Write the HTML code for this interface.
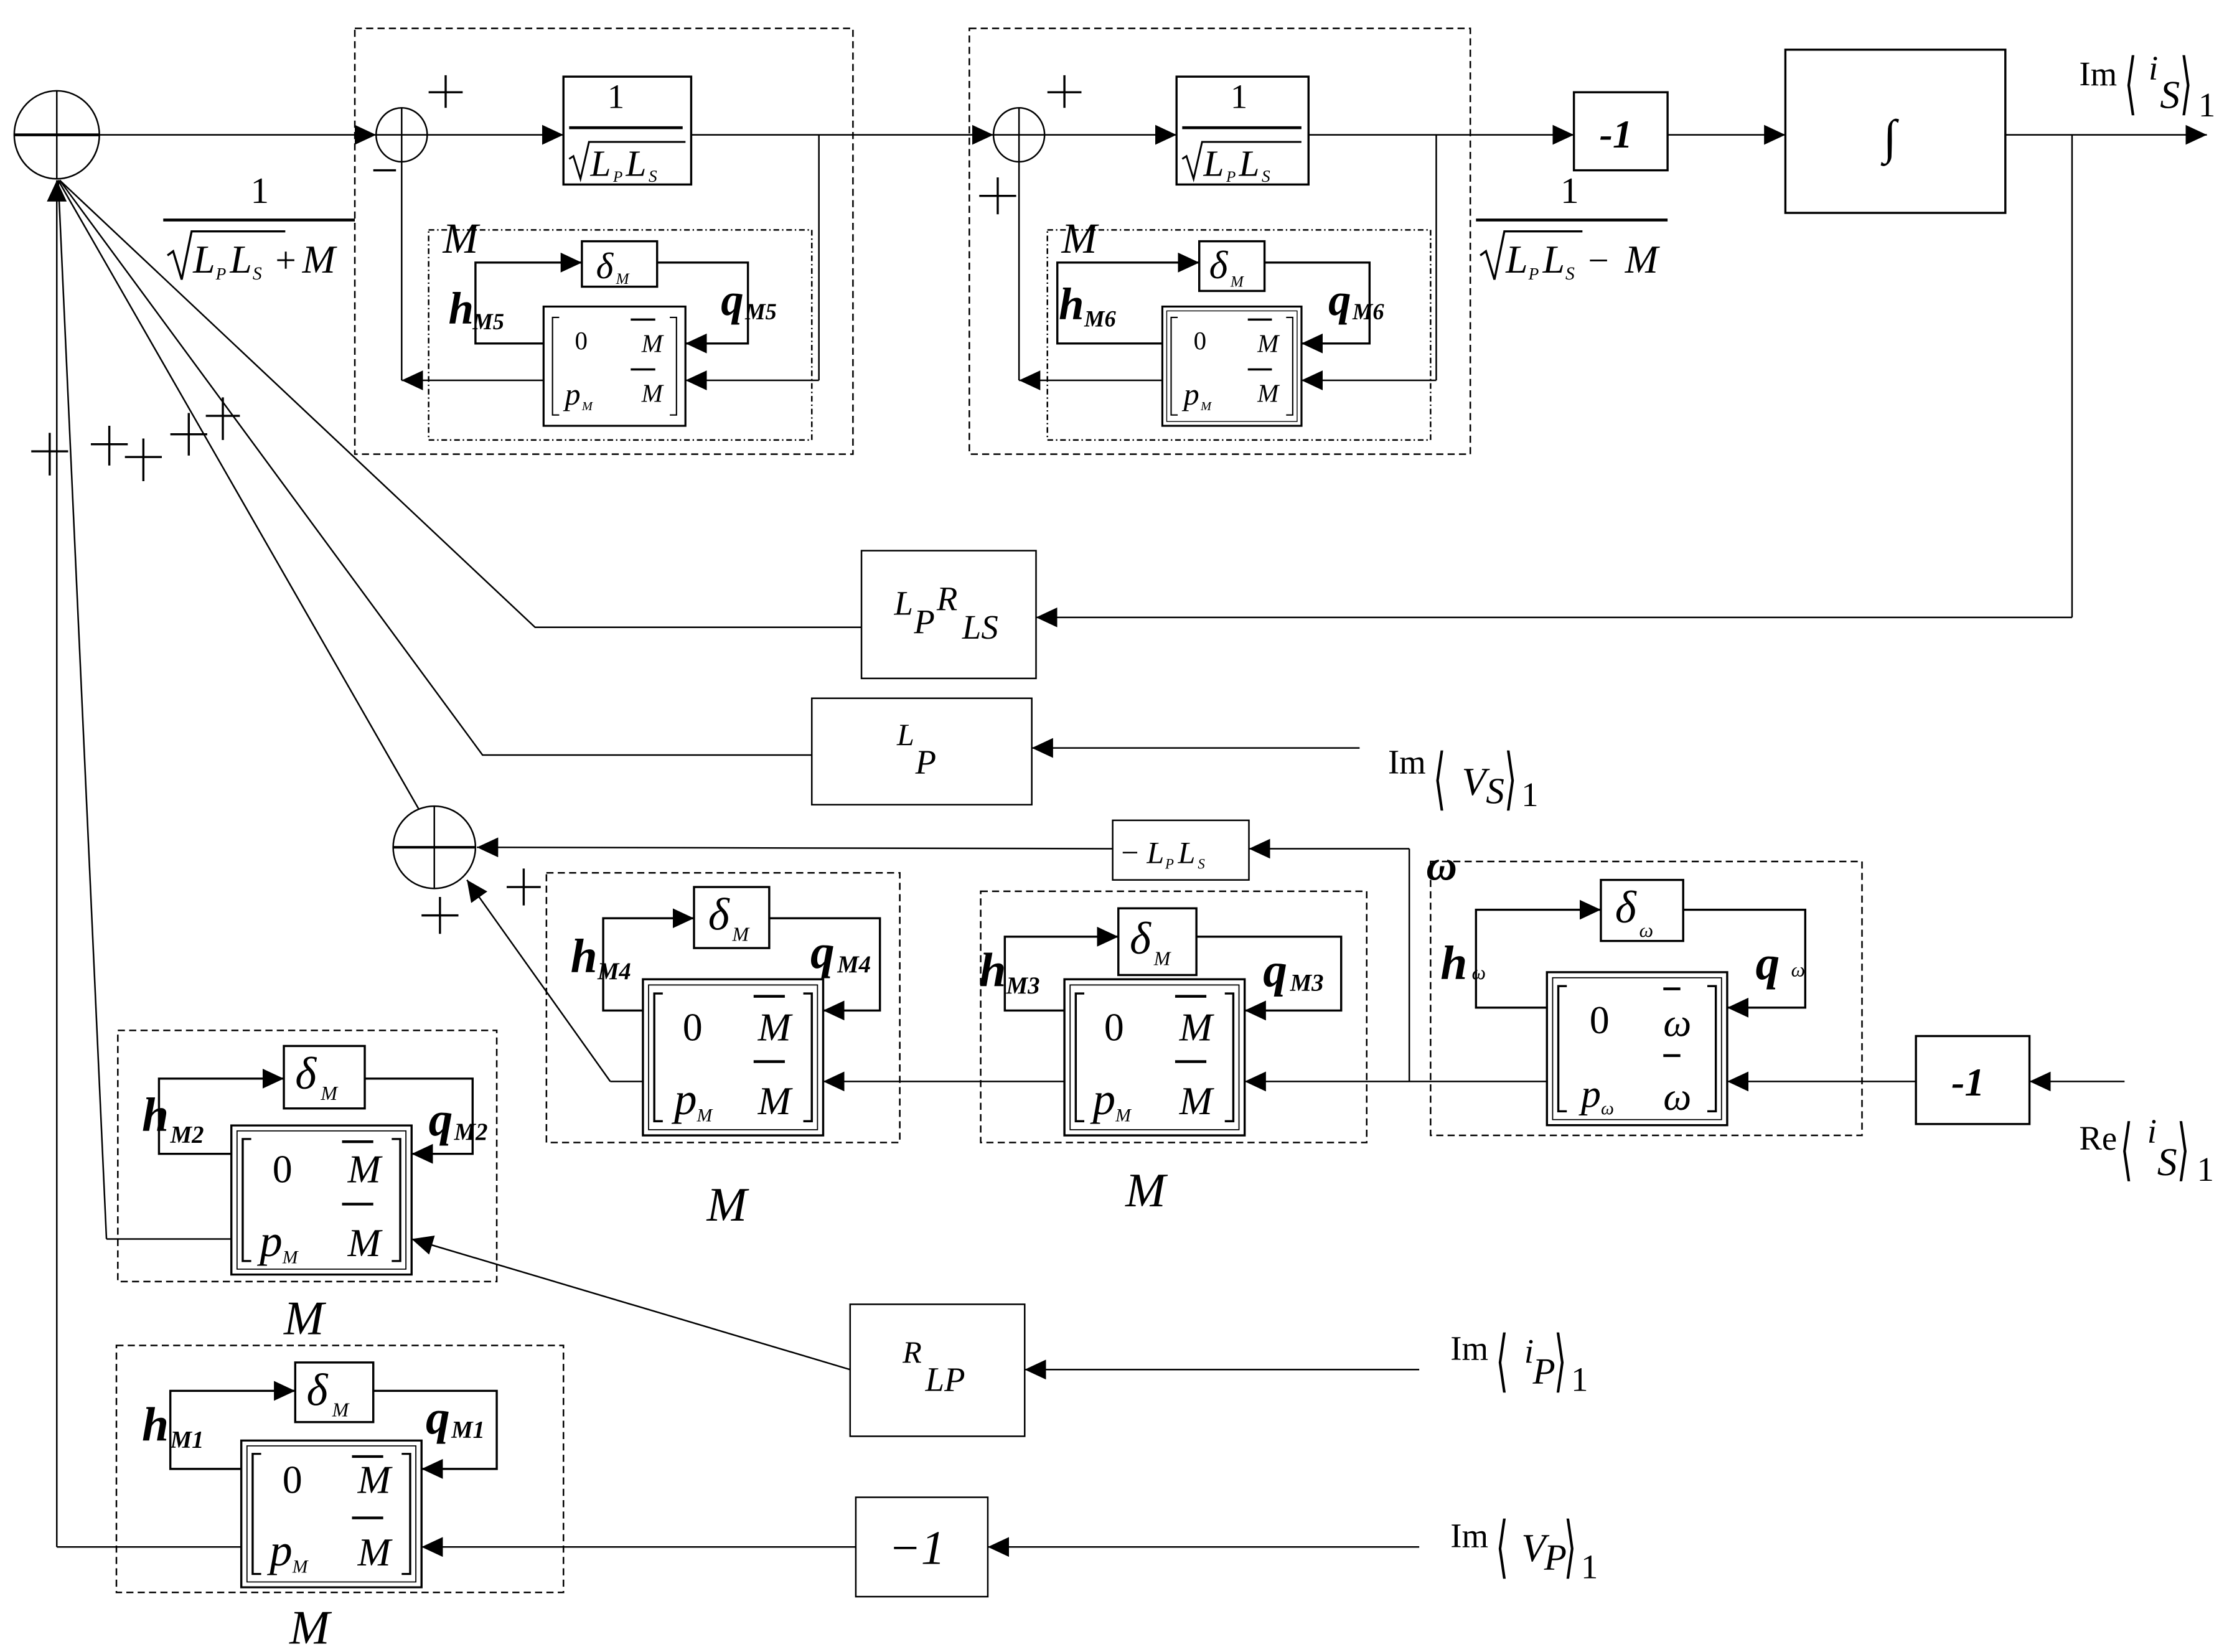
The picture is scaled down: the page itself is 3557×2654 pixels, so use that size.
<!DOCTYPE html>
<html><head><meta charset="utf-8"><style>
html,body{margin:0;padding:0;background:#fff;}
svg{display:block;}
text{font-family:"Liberation Serif",serif;fill:#000;}
.i{font-style:italic;}
.b{font-weight:bold;font-style:italic;}
</style></head><body>
<svg width="3557" height="2654" viewBox="0 0 1560 1164" xmlns="http://www.w3.org/2000/svg">
<defs>
<marker id="a" markerUnits="userSpaceOnUse" markerWidth="16" markerHeight="14" refX="15" refY="7" orient="auto"><path d="M0,0 L15,7 L0,14 z" fill="#000"/></marker>
</defs>
<rect width="1560" height="1164" fill="#fff"/>
<g fill="none" stroke="#000" stroke-width="1.1">
<ellipse cx="40" cy="95" rx="30" ry="31"/>
<line x1="10" y1="95" x2="70" y2="95" stroke-width="2"/><line x1="40" y1="64" x2="40" y2="126"/>
<line x1="70" y1="95" x2="265" y2="95" marker-end="url(#a)"/>
<g stroke-dasharray="5,3">
<rect x="250" y="20" width="351" height="300"/>
<rect x="683" y="20" width="353" height="300"/>
<rect x="385" y="615" width="249" height="190"/>
<rect x="691" y="628" width="272" height="177"/>
<rect x="1008" y="607" width="304" height="193"/>
<rect x="83" y="726" width="267" height="177"/>
<rect x="82" y="948" width="315" height="174"/>
</g>
<g stroke-dasharray="4,2,1,2">
<rect x="302" y="162" width="270" height="148"/>
<rect x="738" y="162" width="270" height="148"/>
</g>
<ellipse cx="283" cy="95" rx="18" ry="19"/><line x1="265" y1="95" x2="301" y2="95"/><line x1="283" y1="76" x2="283" y2="114"/>
<ellipse cx="718" cy="95" rx="18" ry="19"/><line x1="700" y1="95" x2="736" y2="95"/><line x1="718" y1="76" x2="718" y2="114"/>
<line x1="301" y1="95" x2="397" y2="95" marker-end="url(#a)"/>
<line x1="736" y1="95" x2="829" y2="95" marker-end="url(#a)"/>
<rect x="397" y="54" width="90" height="76" stroke-width="1.5"/>
<rect x="829" y="54" width="93" height="76" stroke-width="1.5"/>
<line x1="487" y1="95" x2="700" y2="95" marker-end="url(#a)"/>
<line x1="922" y1="95" x2="1109" y2="95" marker-end="url(#a)"/>
<polyline points="577,95 577,268"/><line x1="577" y1="268" x2="483" y2="268" marker-end="url(#a)"/>
<polyline points="1012,95 1012,268"/><line x1="1012" y1="268" x2="917" y2="268" marker-end="url(#a)"/>
<line x1="383" y1="268" x2="283" y2="268" marker-end="url(#a)"/><line x1="283" y1="268" x2="283" y2="114"/>
<line x1="819" y1="268" x2="718" y2="268" marker-end="url(#a)"/><line x1="718" y1="268" x2="718" y2="114"/>
<rect x="1109" y="65" width="66" height="55" stroke-width="1.5"/>
<line x1="1175" y1="95" x2="1258" y2="95" marker-end="url(#a)"/>
<rect x="1258" y="35" width="155" height="115" stroke-width="1.5"/>
<line x1="1413" y1="95" x2="1555" y2="95" marker-end="url(#a)"/>
<polyline points="1460,95 1460,435"/><line x1="1460" y1="435" x2="730" y2="435" marker-end="url(#a)"/>
<rect x="607" y="388" width="123" height="90"/>
<polyline points="607,442 377,442 42,127"/>
<rect x="572" y="492" width="155" height="75"/>
<line x1="958" y1="527" x2="727" y2="527" marker-end="url(#a)"/>
<polyline points="572,532 340,532 42,127"/>
<ellipse cx="306" cy="597" rx="29" ry="29"/><line x1="277" y1="597" x2="335" y2="597" stroke-width="1.8"/><line x1="306" y1="568" x2="306" y2="626"/>
<line x1="295" y1="570" x2="41" y2="127"/>
<rect x="784" y="578" width="96" height="42"/>
<line x1="993" y1="598" x2="880" y2="598" marker-end="url(#a)"/>
<line x1="784" y1="598" x2="336" y2="597" marker-end="url(#a)"/>
<line x1="993" y1="598" x2="993" y2="762"/>
<polyline points="453,762 430,762"/><line x1="430" y1="762" x2="329" y2="620" marker-end="url(#a)"/>
<line x1="750" y1="762" x2="580" y2="762" marker-end="url(#a)"/>
<line x1="1090" y1="762" x2="877" y2="762" marker-end="url(#a)"/>
<rect x="1350" y="730" width="80" height="62" stroke-width="1.5"/>
<line x1="1350" y1="762" x2="1217" y2="762" marker-end="url(#a)"/>
<line x1="1497" y1="762" x2="1430" y2="762" marker-end="url(#a)"/>
<polyline points="163,873 75,873"/><line x1="75" y1="873" x2="41" y2="127"/>
<rect x="599" y="919" width="123" height="93"/>
<line x1="599" y1="965" x2="290" y2="873" marker-end="url(#a)"/>
<line x1="1000" y1="965" x2="722" y2="965" marker-end="url(#a)"/>
<polyline points="170,1090 40,1090"/><line x1="40" y1="1090" x2="40" y2="127" marker-end="url(#a)"/>
<rect x="603" y="1055" width="93" height="70"/>
<line x1="1000" y1="1090" x2="696" y2="1090" marker-end="url(#a)"/>
<line x1="603" y1="1090" x2="297" y2="1090" marker-end="url(#a)"/>
<g stroke-width="1.5">
<rect x="410" y="170" width="53" height="32"/>
<rect x="845" y="170" width="46" height="35"/>
<rect x="489" y="625" width="53" height="43"/>
<rect x="788" y="640" width="55" height="47"/>
<rect x="1128" y="620" width="58" height="43"/>
<rect x="200" y="737" width="57" height="44"/>
<rect x="208" y="960" width="55" height="42"/>
</g>
<g stroke-width="1.5">
<polyline points="383,242 335,242 335,185 410,185" marker-end="url(#a)"/>
<polyline points="463,185 527,185 527,242 483,242" marker-end="url(#a)"/>
<polyline points="819,242 745,242 745,185 845,185" marker-end="url(#a)"/>
<polyline points="891,185 965,185 965,242 917,242" marker-end="url(#a)"/>
<polyline points="453,712 425,712 425,647 489,647" marker-end="url(#a)"/>
<polyline points="542,647 620,647 620,712 580,712" marker-end="url(#a)"/>
<polyline points="750,712 708,712 708,660 788,660" marker-end="url(#a)"/>
<polyline points="843,660 945,660 945,712 877,712" marker-end="url(#a)"/>
<polyline points="1090,710 1040,710 1040,641 1128,641" marker-end="url(#a)"/>
<polyline points="1186,641 1272,641 1272,710 1217,710" marker-end="url(#a)"/>
<polyline points="163,813 112,813 112,760 200,760" marker-end="url(#a)"/>
<polyline points="257,760 333,760 333,813 290,813" marker-end="url(#a)"/>
<polyline points="170,1035 120,1035 120,980 208,980" marker-end="url(#a)"/>
<polyline points="263,980 350,980 350,1035 297,1035" marker-end="url(#a)"/>
</g>
<g stroke-width="1.5">
<path d="M22,318h26M35,305v30"/><path d="M64,313h26M77,300v28"/><path d="M88,322h26M101,309v30"/>
<path d="M120,306h26M133,291v30"/><path d="M145,293h24M157,280v30"/>
<path d="M302,65h24M314,53v23"/><path d="M263,120h16"/>
<path d="M738,65h24M750,53v23"/><path d="M690,138h26M703,125v26"/>
<path d="M357,625h24M369,612v26"/><path d="M297,645h26M310,632v26"/>
</g>
<line x1="115" y1="155" x2="250" y2="155" stroke-width="2"/>
<path d="M118,180 l4,-3 l6,20 l7,-34 h66" stroke-width="1.5"/>
<line x1="1040" y1="155" x2="1175" y2="155" stroke-width="2"/>
<path d="M1043,180 l4,-3 l6,20 l7,-34 h55" stroke-width="1.5"/>
<line x1="401" y1="90" x2="481" y2="90" stroke-width="2"/>
<path d="M401,112 l3,-2 l5,16 l6,-26 h68" stroke-width="1.3"/>
<line x1="833" y1="90" x2="917" y2="90" stroke-width="2"/>
<path d="M833,112 l3,-2 l5,16 l6,-26 h70" stroke-width="1.3"/>
</g>

<g fill="none" stroke="#000">
<g transform="translate(383,216) scale(0.787,0.764)"><rect x="0" y="0" width="127" height="110" stroke-width="1.8"/><path d="M14,10H8V100H14M113,10H119V100H113" stroke-width="1.2"/><line x1="78" y1="12" x2="100" y2="12" stroke-width="2"/><line x1="78" y1="58" x2="100" y2="58" stroke-width="2"/></g>
<g transform="translate(819,216) scale(0.772,0.764)"><rect x="0" y="0" width="127" height="110" stroke-width="1.8"/><rect x="4" y="4" width="119" height="102" stroke-width="0.8"/><path d="M14,10H8V100H14M113,10H119V100H113" stroke-width="1.2"/><line x1="78" y1="12" x2="100" y2="12" stroke-width="2"/><line x1="78" y1="58" x2="100" y2="58" stroke-width="2"/></g>
<g transform="translate(453,690)"><rect x="0" y="0" width="127" height="110" stroke-width="1.5"/><rect x="4" y="4" width="119" height="102" stroke-width="0.8"/><path d="M14,10H8V100H14M113,10H119V100H113" stroke-width="1.5"/><line x1="78" y1="12" x2="100" y2="12" stroke-width="2"/><line x1="78" y1="58" x2="100" y2="58" stroke-width="2"/></g>
<g transform="translate(750,690)"><rect x="0" y="0" width="127" height="110" stroke-width="1.5"/><rect x="4" y="4" width="119" height="102" stroke-width="0.8"/><path d="M14,10H8V100H14M113,10H119V100H113" stroke-width="1.5"/><line x1="78" y1="12" x2="100" y2="12" stroke-width="2"/><line x1="78" y1="58" x2="100" y2="58" stroke-width="2"/></g>
<g transform="translate(1090,685) scale(1,0.98)"><rect x="0" y="0" width="127" height="110" stroke-width="1.5"/><rect x="4" y="4" width="119" height="102" stroke-width="0.8"/><path d="M14,10H8V100H14M113,10H119V100H113" stroke-width="1.5"/><line x1="82" y1="12" x2="94" y2="12" stroke-width="2"/><line x1="82" y1="60" x2="94" y2="60" stroke-width="2"/></g>
<g transform="translate(163,793) scale(1,0.955)"><rect x="0" y="0" width="127" height="110" stroke-width="1.5"/><rect x="4" y="4" width="119" height="102" stroke-width="0.8"/><path d="M14,10H8V100H14M113,10H119V100H113" stroke-width="1.5"/><line x1="78" y1="12" x2="100" y2="12" stroke-width="2"/><line x1="78" y1="58" x2="100" y2="58" stroke-width="2"/></g>
<g transform="translate(170,1015) scale(1,0.94)"><rect x="0" y="0" width="127" height="110" stroke-width="1.5"/><rect x="4" y="4" width="119" height="102" stroke-width="0.8"/><path d="M14,10H8V100H14M113,10H119V100H113" stroke-width="1.5"/><line x1="78" y1="12" x2="100" y2="12" stroke-width="2"/><line x1="78" y1="58" x2="100" y2="58" stroke-width="2"/></g>
</g>

<g font-size="18">
<text x="405" y="246">0</text><text x="452" y="248" class="i">M</text><text x="398" y="285" class="i" font-size="22">p</text><text x="410" y="289" class="i" font-size="9">M</text><text x="452" y="283" class="i">M</text>
<text x="841" y="246">0</text><text x="886" y="248" class="i">M</text><text x="834" y="285" class="i" font-size="22">p</text><text x="846" y="289" class="i" font-size="9">M</text><text x="886" y="283" class="i">M</text>
</g>
<g font-size="28">
<text x="481" y="733">0</text><text x="534" y="733" class="i">M</text><text x="475" y="785" class="i" font-size="32">p</text><text x="491" y="790" class="i" font-size="13">M</text><text x="534" y="785" class="i">M</text>
<text x="778" y="733">0</text><text x="831" y="733" class="i">M</text><text x="770" y="785" class="i" font-size="32">p</text><text x="786" y="790" class="i" font-size="13">M</text><text x="831" y="785" class="i">M</text>
<text x="1120" y="728">0</text><text x="1172" y="730" class="i">ω</text><text x="1114" y="780" class="i" font-size="28">p</text><text x="1128" y="785" class="i" font-size="13">ω</text><text x="1172" y="782" class="i">ω</text>
<text x="192" y="833">0</text><text x="245" y="833" class="i">M</text><text x="183" y="885" class="i" font-size="32">p</text><text x="199" y="890" class="i" font-size="13">M</text><text x="245" y="885" class="i">M</text>
<text x="199" y="1052">0</text><text x="252" y="1052" class="i">M</text><text x="190" y="1103" class="i" font-size="32">p</text><text x="206" y="1108" class="i" font-size="13">M</text><text x="252" y="1103" class="i">M</text>
</g>

<text x="420" y="196" class="i" font-size="26">δ</text><text x="434" y="200" class="i" font-size="11">M</text>
<text x="852" y="196" class="i" font-size="28">δ</text><text x="867" y="202" class="i" font-size="11">M</text>
<text x="499" y="655" class="i" font-size="32">δ</text><text x="516" y="663" class="i" font-size="14">M</text>
<text x="796" y="672" class="i" font-size="32">δ</text><text x="813" y="680" class="i" font-size="14">M</text>
<text x="1138" y="650" class="i" font-size="32">δ</text><text x="1155" y="660" class="i" font-size="14">ω</text>
<text x="208" y="767" class="i" font-size="32">δ</text><text x="226" y="775" class="i" font-size="14">M</text>
<text x="216" y="990" class="i" font-size="32">δ</text><text x="234" y="998" class="i" font-size="14">M</text>

<g>
<text x="316" y="228" font-size="32" class="b">h</text><text x="333" y="232" font-size="16" class="b">M5</text>
<text x="508" y="222" font-size="32" class="b">q</text><text x="525" y="225" font-size="16" class="b">M5</text>
<text x="746" y="225" font-size="32" class="b">h</text><text x="764" y="230" font-size="16" class="b">M6</text>
<text x="936" y="222" font-size="32" class="b">q</text><text x="953" y="225" font-size="16" class="b">M6</text>
<text x="402" y="685" font-size="34" class="b">h</text><text x="421" y="690" font-size="17" class="b">M4</text>
<text x="571" y="682" font-size="34" class="b">q</text><text x="590" y="685" font-size="17" class="b">M4</text>
<text x="690" y="695" font-size="34" class="b">h</text><text x="709" y="700" font-size="17" class="b">M3</text>
<text x="890" y="695" font-size="34" class="b">q</text><text x="909" y="698" font-size="17" class="b">M3</text>
<text x="1015" y="690" font-size="34" class="b">h</text><text x="1037" y="690" font-size="14" class="i">ω</text>
<text x="1237" y="690" font-size="34" class="b">q</text><text x="1262" y="688" font-size="14" class="i">ω</text>
<text x="100" y="797" font-size="34" class="b">h</text><text x="120" y="805" font-size="17" class="b">M2</text>
<text x="302" y="800" font-size="34" class="b">q</text><text x="320" y="803" font-size="17" class="b">M2</text>
<text x="100" y="1015" font-size="34" class="b">h</text><text x="120" y="1020" font-size="17" class="b">M1</text>
<text x="300" y="1010" font-size="34" class="b">q</text><text x="318" y="1013" font-size="17" class="b">M1</text>
</g>

<g font-size="34">
<text x="312" y="178" class="i" font-size="30">M</text>
<text x="748" y="178" class="i" font-size="30">M</text>
<text x="498" y="860" class="i">M</text>
<text x="793" y="850" class="i">M</text>
<text x="200" y="940" class="i">M</text>
<text x="204" y="1158" class="i">M</text>
<text x="1005" y="620" class="b" font-size="30">ω</text>
</g>

<text x="434" y="76" font-size="24" text-anchor="middle">1</text>
<text x="416" y="124" class="i" font-size="26">L</text><text x="432" y="128" class="i" font-size="11">P</text><text x="441" y="124" class="i" font-size="26">L</text><text x="457" y="128" class="i" font-size="12">S</text>
<text x="873" y="76" font-size="24" text-anchor="middle">1</text>
<text x="848" y="124" class="i" font-size="26">L</text><text x="864" y="128" class="i" font-size="11">P</text><text x="873" y="124" class="i" font-size="26">L</text><text x="889" y="128" class="i" font-size="12">S</text>
<text x="183" y="143" font-size="26" text-anchor="middle">1</text>
<text x="136" y="192" class="i" font-size="28">L</text><text x="152" y="197" class="i" font-size="12">P</text><text x="162" y="192" class="i" font-size="28">L</text><text x="178" y="197" class="i" font-size="13">S</text><text x="194" y="192" font-size="26">+</text><text x="213" y="192" class="i" font-size="28">M</text>
<text x="1106" y="143" font-size="26" text-anchor="middle">1</text>
<text x="1061" y="192" class="i" font-size="28">L</text><text x="1077" y="197" class="i" font-size="12">P</text><text x="1087" y="192" class="i" font-size="28">L</text><text x="1103" y="197" class="i" font-size="13">S</text><text x="1119" y="192" font-size="26">−</text><text x="1145" y="192" class="i" font-size="28">M</text>
<text x="1127" y="104" class="b" font-size="28">-1</text>
<text x="1327" y="108" class="i" font-size="34">∫</text>
<text x="630" y="433" class="i" font-size="24">L</text><text x="644" y="446" class="i" font-size="24">P</text><text x="660" y="430" class="i" font-size="24">R</text><text x="678" y="450" class="i" font-size="24">LS</text>
<text x="632" y="525" class="i" font-size="22">L</text><text x="645" y="545" class="i" font-size="24">P</text>
<text x="790" y="608" font-size="22">−</text><text x="808" y="608" class="i" font-size="22">L</text><text x="821" y="612" class="i" font-size="10">P</text><text x="830" y="608" class="i" font-size="22">L</text><text x="844" y="612" class="i" font-size="10">S</text>
<text x="1375" y="772" class="b" font-size="28">-1</text>
<text x="636" y="960" class="i" font-size="22">R</text><text x="652" y="980" class="i" font-size="24">LP</text>
<text x="626" y="1102" class="i" font-size="34">−1</text>

<g font-size="24">
<text x="1465" y="60">Im</text><text transform="translate(1497,75) scale(0.8,1.7)" font-size="28">⟨</text><text x="1514" y="56" class="i">i</text><text x="1522" y="76" class="i" font-size="28">S</text><text transform="translate(1536,75) scale(0.8,1.7)" font-size="28">⟩</text><text x="1549" y="82">1</text>
<text x="978" y="545">Im</text><text transform="translate(1010,565) scale(0.8,1.7)" font-size="28">⟨</text><text x="1030" y="560" class="i" font-size="28">V</text><text x="1047" y="566" class="i" font-size="26">S</text><text transform="translate(1060,565) scale(0.8,1.7)" font-size="28">⟩</text><text x="1072" y="568">1</text>
<text x="1465" y="810">Re</text><text transform="translate(1494,826) scale(0.8,1.7)" font-size="28">⟨</text><text x="1513" y="805" class="i">i</text><text x="1520" y="828" class="i" font-size="28">S</text><text transform="translate(1534,826) scale(0.8,1.7)" font-size="28">⟩</text><text x="1548" y="832">1</text>
<text x="1022" y="958">Im</text><text transform="translate(1054,975) scale(0.8,1.7)" font-size="28">⟨</text><text x="1074" y="960" class="i">i</text><text x="1080" y="975" class="i" font-size="26">P</text><text transform="translate(1095,975) scale(0.8,1.7)" font-size="28">⟩</text><text x="1107" y="980">1</text>
<text x="1022" y="1090">Im</text><text transform="translate(1054,1106) scale(0.8,1.7)" font-size="28">⟨</text><text x="1072" y="1100" class="i" font-size="28">V</text><text x="1088" y="1106" class="i" font-size="26">P</text><text transform="translate(1102,1106) scale(0.8,1.7)" font-size="28">⟩</text><text x="1114" y="1112">1</text>
</g>
</svg>
</body></html>
